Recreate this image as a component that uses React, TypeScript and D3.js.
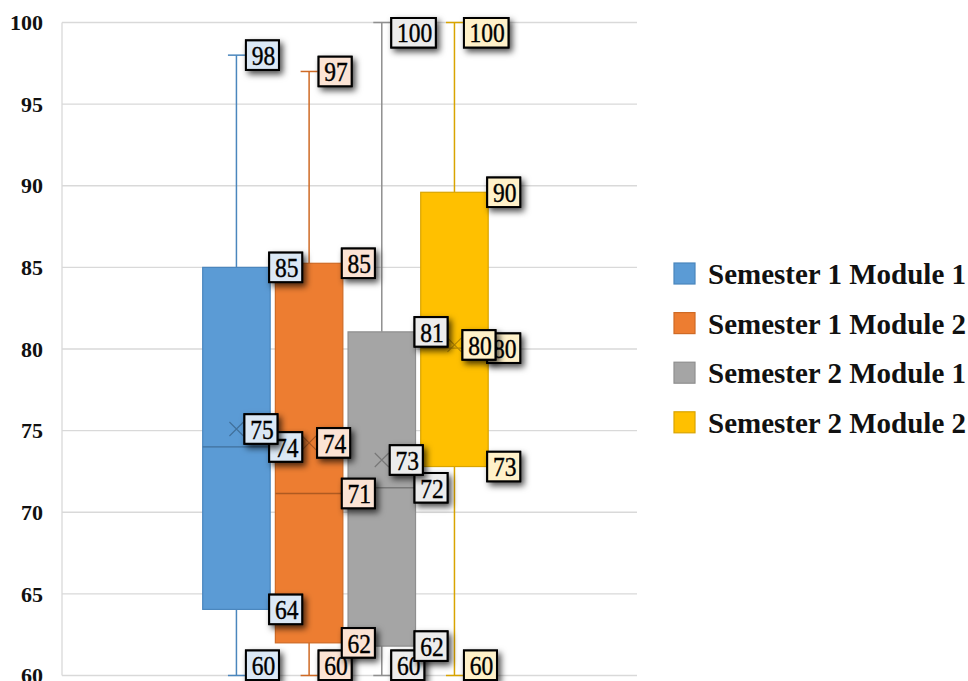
import React from "react";
import * as d3 from "d3";

const seriesNames = ["Semester 1 Module 1", "Semester 1 Module 2", "Semester 2 Module 1", "Semester 2 Module 2"];
const minValues = [60, 60, 60, 60];
const q1Values = [64.05, 62.0, 61.8, 72.8];
const medianValues = [74.0, 71.15, 71.5, 80.05];
const meanValues = [75.1, 74.25, 73.2, 80.25];
const q3Values = [85.0, 85.25, 81.05, 89.6];
const maxValues = [98, 97, 100, 100];
const yTicks = [60, 65, 70, 75, 80, 85, 90, 95, 100];

const fills = ["#5b9bd5", "#ed7d31", "#a5a5a5", "#ffc000"];
const strokes = ["#4a86bd", "#cf6a25", "#8f8f8f", "#d9a400"];
const darks = ["#41719c", "#ae5a21", "#787878", "#bc8c00"];
const labelFills = ["#dbe8f5", "#fbe3d4", "#ececec", "#fff1c9"];

const W = 968;
const H = 681;
const plotL = 62;
const plotR = 637;
const plotT = 22.5;
const plotB = 675.5;
const FONT = "'Liberation Serif', 'Times New Roman', serif";

export default function App() {
  const y = d3.scaleLinear().domain([60, 100]).range([plotB, plotT]);
  const xCat = d3.scaleBand<string>().domain(["all"]).range([plotL, plotR]).paddingInner(0).paddingOuter(0.507).align(0.486);
  const g0 = xCat("all") as number;
  const xs = d3.scaleBand<string>().domain(seriesNames).range([g0, g0 + xCat.bandwidth()]).paddingInner(0.0715).paddingOuter(0);
  const bw = xs.bandwidth();
  const fmt = d3.format(".0f");
  const lh = 29.5;
  const clampY = (v: number) => Math.max(18 + lh / 2, Math.min(680 - lh / 2, v));

  type Lab = { s: number; v: number; x: number };
  const labels: Lab[] = [];
  seriesNames.forEach((name, i) => {
    const left = xs(name) as number;
    const cx = left + bw / 2;
    const right = left + bw;
    labels.push({ s: i, v: minValues[i], x: cx + 9.5 });
    labels.push({ s: i, v: maxValues[i], x: cx + 9.5 });
    labels.push({ s: i, v: q3Values[i], x: right - 1 });
    labels.push({ s: i, v: medianValues[i], x: right - 1 });
    labels.push({ s: i, v: q1Values[i], x: right - 1 });
  });
  seriesNames.forEach((name, i) => {
    const left = xs(name) as number;
    const cx = left + bw / 2;
    labels.push({ s: i, v: meanValues[i], x: cx + 8 });
  });

  return (
    <svg width={W} height={H} style={{ position: "absolute", left: 0, top: 0, background: "#fff" }}>
      <defs>
        <filter id="sh" x="-50%" y="-50%" width="200%" height="200%">
          <feDropShadow dx="3" dy="3.5" stdDeviation="3" floodColor="#000" floodOpacity="0.7" />
        </filter>
      </defs>
      <rect x={0} y={0} width={W} height={H} fill="#fff" />
      {yTicks.map((t) => (
        <line key={"g" + t} x1={plotL} x2={plotR} y1={y(t)} y2={y(t)} stroke="#d9d9d9" strokeWidth={1.3} />
      ))}
      <line x1={plotL} x2={plotL} y1={plotT} y2={plotB} stroke="#d9d9d9" strokeWidth={1.3} />
      {yTicks.map((t) => (
        <text key={"t" + t} x={43} y={y(t)} dy="0.35em" textAnchor="end" fontFamily={FONT} fontWeight="bold" fontSize={22} fill="#111">
          {t}
        </text>
      ))}
      {seriesNames.map((name, i) => {
        const left = xs(name) as number;
        const cx = left + bw / 2;
        return (
          <g key={name}>
            <line x1={cx} x2={cx} y1={y(maxValues[i])} y2={y(q3Values[i])} stroke={strokes[i]} strokeWidth={1.5} />
            <line x1={cx} x2={cx} y1={y(q1Values[i])} y2={y(minValues[i])} stroke={strokes[i]} strokeWidth={1.5} />
            <line x1={cx - 8.5} x2={cx + 8.5} y1={y(maxValues[i])} y2={y(maxValues[i])} stroke={strokes[i]} strokeWidth={1.5} />
            <line x1={cx - 8.5} x2={cx + 8.5} y1={y(minValues[i])} y2={y(minValues[i])} stroke={strokes[i]} strokeWidth={1.5} />
            <rect x={left} y={y(q3Values[i])} width={bw} height={y(q1Values[i]) - y(q3Values[i])} fill={fills[i]} stroke={strokes[i]} strokeWidth={1.2} />
            <line x1={left} x2={left + bw} y1={y(medianValues[i])} y2={y(medianValues[i])} stroke={darks[i]} strokeWidth={1.3} />
            <path
              d={`M${cx - 7},${y(meanValues[i]) - 7}L${cx + 7},${y(meanValues[i]) + 7}M${cx - 7},${y(meanValues[i]) + 7}L${cx + 7},${y(meanValues[i]) - 7}`}
              stroke={darks[i]}
              strokeWidth={1.2}
              fill="none"
            />
          </g>
        );
      })}
      {labels.map((l, k) => {
        const txt = fmt(l.v);
        const w = txt.length * 11.5 + 10;
        const cy = clampY(y(l.v));
        return (
          <g key={"l" + k}>
            <rect x={l.x} y={cy - lh / 2} width={w} height={lh} fill={labelFills[l.s]} stroke="#000" strokeWidth={2} filter="url(#sh)" />
            <rect x={l.x} y={cy - lh / 2} width={w} height={lh} fill={labelFills[l.s]} stroke="#000" strokeWidth={2} />
            <text
              transform={`translate(${l.x + w / 2 + 1},${cy}) scale(1,1.15)`}
              dy="0.36em"
              textAnchor="middle"
              fontFamily={FONT}
              fontSize={23.5}
              fill="#000"
              stroke="#000"
              strokeWidth={0.35}
            >
              {txt}
            </text>
          </g>
        );
      })}
      {seriesNames.map((name, i) => {
        const cy = 274 + i * 49.6;
        return (
          <g key={"lg" + i}>
            <rect x={674} y={cy - 11} width={21} height={21} fill={fills[i]} stroke={strokes[i]} strokeWidth={1.2} />
            <text x={708} y={cy} dy="0.35em" fontFamily={FONT} fontWeight="bold" fontSize={29} fill="#111">
              {name}
            </text>
          </g>
        );
      })}
    </svg>
  );
}
